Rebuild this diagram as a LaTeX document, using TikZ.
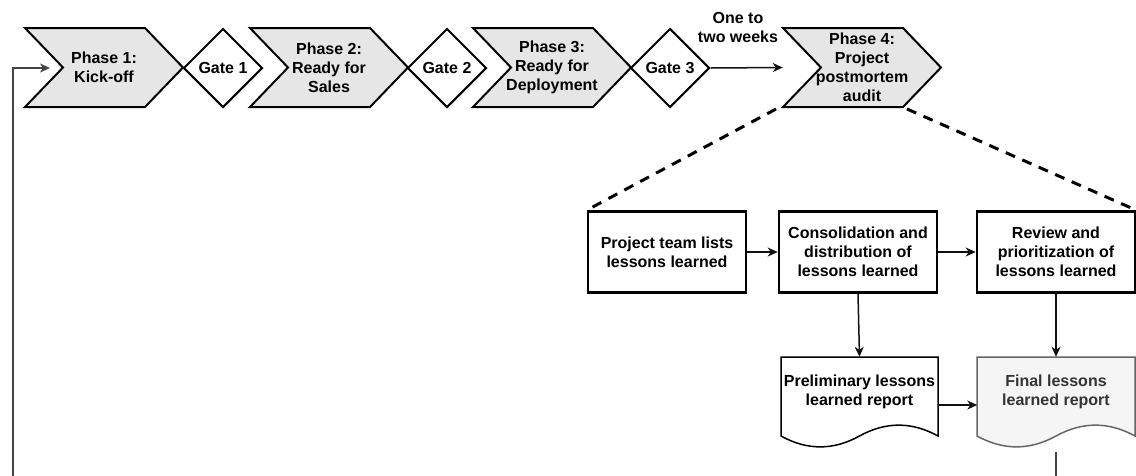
\documentclass[tikz,border=0pt]{standalone}
\usepackage{fontspec}
\setmainfont{Liberation Sans}
\usetikzlibrary{shapes.geometric,arrows.meta,calc}

\definecolor{phasefill}{HTML}{E6E6E6}
\definecolor{finalfill}{HTML}{F5F5F5}
\definecolor{finalline}{HTML}{666666}
\definecolor{finaltext}{HTML}{333333}
\definecolor{linkcol}{HTML}{111111}
\definecolor{loopcol}{HTML}{444444}

% chevron-shaped phase: #1 name, #2 left x, #3 top y, #4 label
\newcommand\phasechev[4]{%
  \filldraw[chevshape] (#2,#3) -- ++(120,0) -- ++(38,39.5) -- ++(-38,39.5)
    -- ++(-120,0) -- ++(38,-39.5) -- cycle;
  \node[phasetext] (#1) at (#2+79,#3+39.5) {#4};
}
% document shape with a wavy bottom edge: #1 style, #2 left x, #3 width
\newcommand\reportshape[3]{%
  \filldraw[#1] (#2,357) -- (#2+#3,357) -- (#2+#3,436)
    .. controls (#2+#3*0.833,421.5) and (#2+#3*0.667,421.5) .. (#2+#3*0.5,436)
    .. controls (#2+#3*0.333,450.5) and (#2+#3*0.167,450.5) .. (#2,436) -- cycle;
}

\begin{document}
\begin{tikzpicture}[x=1pt,y=-1pt,
  every node/.style={font=\fontsize{16}{19}\selectfont\bfseries, align=center, inner sep=0pt},
  chevshape/.style={fill=phasefill, draw=black, line width=2pt, line join=miter},
  phasetext/.style={minimum width=158pt, minimum height=79pt},
  gate/.style={diamond, draw=black, line width=2pt, fill=white, minimum width=79pt, minimum height=79pt},
  stepbox/.style={rectangle, draw=black, line width=2.6pt, fill=white, minimum width=158pt, minimum height=81pt},
  prelimdoc/.style={draw=black, line width=1.5pt, fill=white},
  finaldoc/.style={draw=finalline, line width=1.5pt, fill=finalfill},
  doctext/.style={minimum width=157pt, minimum height=70pt},
  tip/.style={-{Stealth[length=10pt,width=9pt,inset=3pt]}},
  link/.style={draw=linkcol, line width=1.5pt, tip},
  looplink/.style={draw=loopcol, line width=1.6pt},
  zoomline/.style={draw=black, line width=3pt, dash pattern=on 10pt off 8pt}
]
\useasboundingbox (0,0) rectangle (1136,475);

% phases and gates
\phasechev{p1}{25}{28}{Phase 1:\\Kick-off}
\node[gate] (g1) at (223,68) {Gate 1};
\phasechev{p2}{250}{28}{Phase 2:\\Ready for\\Sales}
\node[gate] (g2) at (447,68) {Gate 2};
\phasechev{p3}{473}{28}{Phase 3:\\Ready for\\Deployment}
\node[gate] (g3) at (670,68) {Gate 3};
\phasechev{p4}{783}{28}{Phase 4:\\Project\\postmortem\\audit}

\node (delay) at (738,27) {One to\\two weeks};
\draw[link] (g3.east) -- (p4.west);

% postmortem steps
\node[stepbox] (s1) at (667,252) {Project team lists\\lessons learned};
\node[stepbox] (s2) at (858,252) {Consolidation and\\distribution of\\lessons learned};
\node[stepbox] (s3) at (1056,252) {Review and\\prioritization of\\lessons learned};

% dashed zoom-out lines from phase 4
\coordinate (zl) at (776,109);
\coordinate (zr) at (907,109);
\draw[zoomline] (zl) -- (s1.north west);
\draw[zoomline] (zr) -- (s3.north east);

\draw[link] (s1.east) -- (s2.west);
\draw[link] (s2.east) -- (s3.west);

% reports
\reportshape{prelimdoc}{781}{157}
\node[doctext] (prelim) at (859.5,392) {Preliminary lessons\\learned report};
\reportshape{finaldoc}{977}{158}
\node[doctext, text=finaltext] (final) at (1056,392) {Final lessons\\learned report};

\draw[link] (s2.south) -- (prelim.north);
\draw[link] (s3.south) -- (final.north);
\draw[link] ([yshift=-13pt]prelim.east) -- ([yshift=-13pt]final.west);

% feedback loop back to phase 1
\coordinate (finalout) at (1056,452);
\coordinate (finalend) at (1056,476);
\draw[looplink] (finalout) -- (finalend);
\coordinate (loopstart) at (13,476);
\coordinate (loopend) at (50,68);
\draw[looplink, tip] (loopstart) |- (loopend);
\end{tikzpicture}
\end{document}
